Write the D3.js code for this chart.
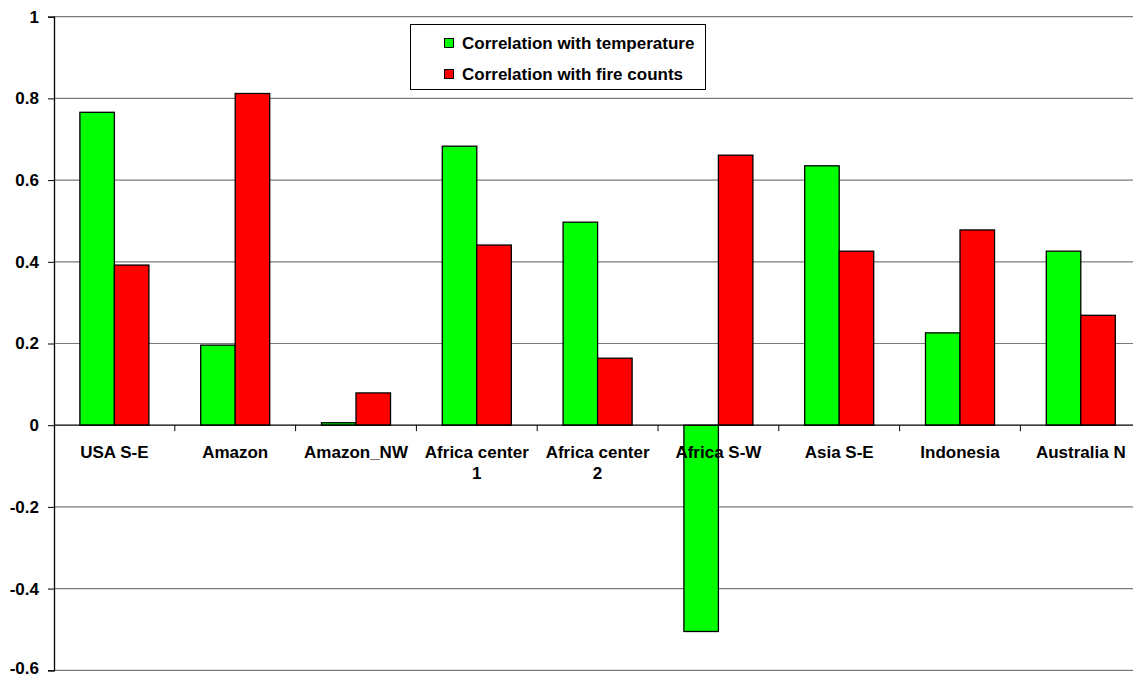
<!DOCTYPE html>
<html><head><meta charset="utf-8">
<script src="https://cdn.jsdelivr.net/npm/d3@7"></script>
<style>body{margin:0;background:#fff}svg{display:block}</style>
</head><body>
<svg id="c" width="1133" height="677"></svg>
<script>
const categories = ["USA S-E","Amazon","Amazon_NW","Africa center 1","Africa center 2","Africa S-W","Asia S-E","Indonesia","Australia N"];
const tempCorr = [0.766,0.196,0.006,0.683,0.497,-0.505,0.635,0.226,0.426];
const fireCorr = [0.392,0.812,0.079,0.441,0.164,0.661,0.426,0.478,0.269];
const seriesNames = ["Correlation with temperature","Correlation with fire counts"];
const seriesColors = ["#00ff00","#ff0000"];
const yTicks = [-0.6,-0.4,-0.2,0,0.2,0.4,0.6,0.8,1];
const yTickLabels = ["-0.6","-0.4","-0.2","0","0.2","0.4","0.6","0.8","1"];

const svg = d3.select("#c");
const mLeft = 54, mTop = 16.7, mBottom = 670.3, step = 120.8;
const mRight = mLeft + step*categories.length;
const font = "'Liberation Sans', Arial, sans-serif";

const y = d3.scaleLinear().domain([-0.6,1]).range([mBottom, mTop]);
const x0 = d3.scaleBand().domain(categories).range([mLeft, mRight]).padding(0);
const x1 = d3.scaleBand().domain(seriesNames).range([0, x0.bandwidth()]).paddingInner(0).paddingOuter(0.75);

// gridlines
svg.append("g").selectAll("line").data(yTicks.filter(d=>d!==0)).join("line")
  .attr("x1", mLeft).attr("x2", mRight).attr("y1", d=>y(d)).attr("y2", d=>y(d))
  .attr("stroke", "#7a7a7a").attr("stroke-width", 1.2);

// y axis
const yAxis = d3.axisLeft(y).tickValues(yTicks).tickSize(6).tickPadding(9)
  .tickFormat((d,i) => yTickLabels[i]);
const gy = svg.append("g").attr("transform", `translate(${mLeft},0)`).call(yAxis);
gy.select(".domain").attr("stroke","#000").attr("stroke-width",1.3);
gy.selectAll(".tick line").attr("stroke","#000");
gy.selectAll(".tick text").attr("font-family", font).attr("font-size", 17).attr("font-weight","bold").attr("fill","#000");
gy.selectAll(".tick text").filter(d=>d===-0.6).attr("dy","0.2em");

// bars
const data = categories.map((c,i)=>({c, vals:[tempCorr[i], fireCorr[i]]}));
const groups = svg.append("g").selectAll("g").data(data).join("g")
  .attr("transform", d=>`translate(${x0(d.c)},0)`);
groups.selectAll("rect").data(d=>d.vals.map((v,j)=>({v, s:seriesNames[j], col:seriesColors[j]}))).join("rect")
  .attr("x", d=>x1(d.s)).attr("width", x1.bandwidth())
  .attr("y", d=>y(Math.max(0,d.v))).attr("height", d=>Math.abs(y(d.v)-y(0)))
  .attr("fill", d=>d.col).attr("stroke","#000").attr("stroke-width",1.3);

// zero axis with category ticks
const gx = svg.append("g").attr("transform", `translate(0,${y(0)})`);
gx.append("line").attr("x1", mLeft).attr("x2", mRight).attr("stroke","#000").attr("stroke-width",1.3);
gx.selectAll(".ct").data(categories).join("line").attr("class","ct")
  .attr("x1", d=>x0(d)+step).attr("x2", d=>x0(d)+step).attr("y1",0).attr("y2",6)
  .attr("stroke","#000");

// category labels with wrapping
const lblG = svg.append("g");
categories.forEach(c=>{
  const t = lblG.append("text").attr("x", x0(c)+step/2).attr("y", 458)
    .attr("text-anchor","middle").attr("font-family",font).attr("font-size",17).attr("font-weight","bold");
  const words = c.split(" ");
  let line = [], lines = [];
  const probe = t.append("tspan");
  words.forEach(w=>{
    const test = line.concat([w]).join(" ");
    probe.text(test);
    if (probe.node().getComputedTextLength() > 114 && line.length) { lines.push(line.join(" ")); line=[w]; }
    else line.push(w);
  });
  lines.push(line.join(" "));
  probe.remove();
  lines.forEach((l,k)=>t.append("tspan").attr("x", x0(c)+step/2).attr("dy", k===0?0:21).text(l));
});

// legend
const lg = svg.append("g");
lg.append("rect").attr("x",410.5).attr("y",24.5).attr("width",295).attr("height",65)
  .attr("fill","#fff").attr("stroke","#000").attr("stroke-width",1);
seriesNames.forEach((s,i)=>{
  const cy = 43 + i*31;
  lg.append("rect").attr("x",444.5).attr("y",cy-4.5).attr("width",9).attr("height",9)
    .attr("fill",seriesColors[i]).attr("stroke","#000").attr("stroke-width",1);
  lg.append("text").attr("x",462).attr("y",cy+6).attr("font-family",font).attr("font-size",17)
    .attr("font-weight","bold").text(s);
});
</script>
</body></html>
